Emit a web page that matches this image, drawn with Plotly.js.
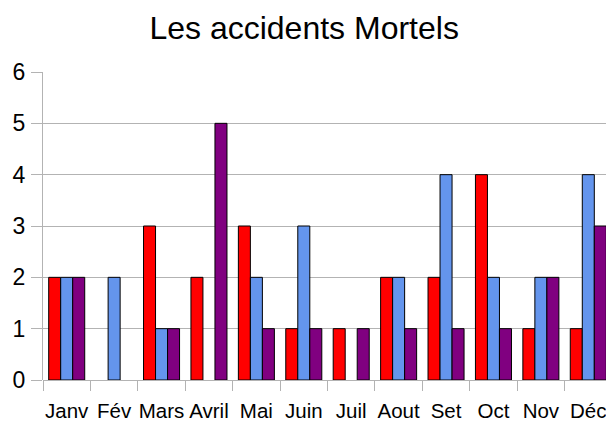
<!DOCTYPE html>
<html><head><meta charset="utf-8">
<script src="https://cdn.plot.ly/plotly-3.0.1.min.js"></script>
<style>html,body{margin:0;padding:0;background:#fff;overflow:hidden}</style>
</head><body><div id="chart" style="width:612px;height:425px"></div>
<script>
const months = ["Janv","Fév","Mars","Avril","Mai","Juin","Juil","Aout","Set","Oct","Nov","Déc"];
const serie1 = [2,0,3,2,3,1,1,2,2,4,1,1];
const serie2 = [2,2,1,0,2,3,0,2,4,2,2,4];
const serie3 = [2,0,1,5,1,1,1,1,1,1,2,3];
const colors = ["#ff0000","#6495ed","#800080"];
const mk = (y,c)=>({type:"bar",x:months,y:y,marker:{color:c,line:{color:"#000",width:y.map(v=>v>0?1:0)}},hoverinfo:"y"});
Plotly.newPlot("chart",[mk(serie1,colors[0]),mk(serie2,colors[1]),mk(serie3,colors[2])],{
  width:612,height:425,
  margin:{l:43,r:0,t:72,b:45},
  paper_bgcolor:"#fff",plot_bgcolor:"#fff",
  showlegend:false,
  bargap:0.24,bargroupgap:0,
  font:{family:"Liberation Sans, Arial, sans-serif",color:"#000"},
  title:{text:"Les accidents Mortels",font:{size:32,color:"#000"},x:0.497,xref:"container",xanchor:"center",y:0.935,yanchor:"middle"},
  xaxis:{type:"category",tickson:"boundaries",ticks:"outside",ticklen:10,tickcolor:"#b3b3b3",tickwidth:1,tickangle:0,
    showgrid:false,showline:false,zeroline:false,tickfont:{size:20.5},ticklabelstandoff:16,fixedrange:true},
  yaxis:{range:[0,6],dtick:1,ticks:"outside",ticklen:11,tickcolor:"#b3b3b3",tickwidth:1,
    showgrid:true,gridcolor:"#b3b3b3",gridwidth:1,showline:true,linecolor:"#b3b3b3",linewidth:1,
    zeroline:true,zerolinecolor:"#b3b3b3",zerolinewidth:1,tickfont:{size:23},ticklabelstandoff:1,fixedrange:true}
},{displayModeBar:false,staticPlot:true});
</script></body></html>
